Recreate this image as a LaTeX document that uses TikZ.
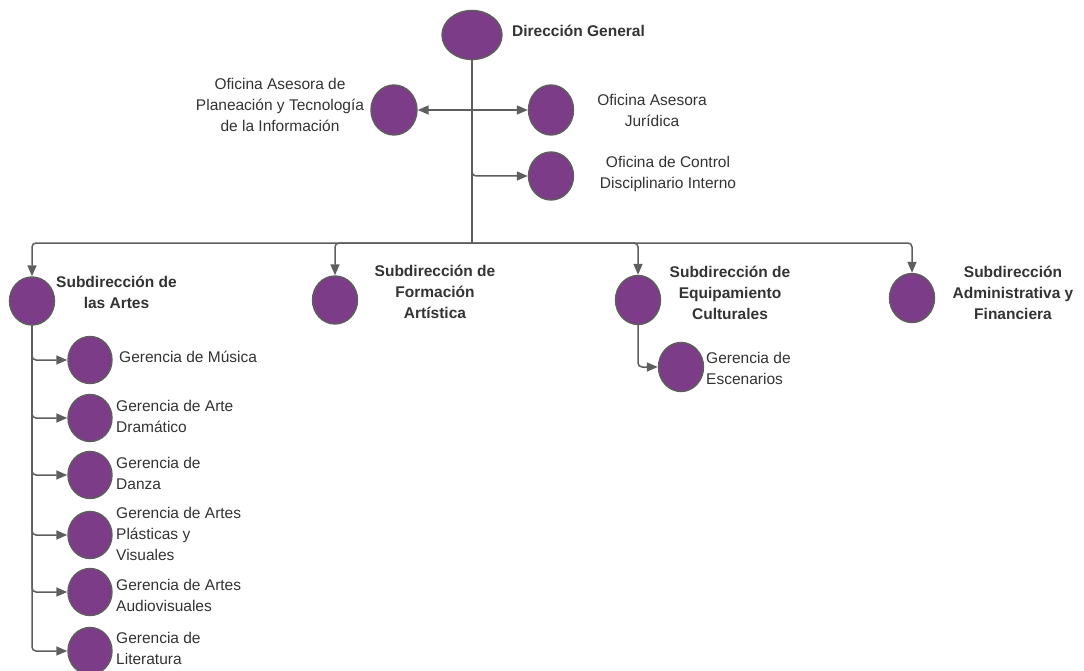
\documentclass[tikz,border=0pt]{standalone}
\usepackage{fontspec}
\setmainfont{Liberation Sans}
\usetikzlibrary{shapes.geometric,arrows.meta}
\definecolor{purp}{HTML}{7D3C87}
\definecolor{ln}{HTML}{5E5E5E}
\definecolor{txt}{HTML}{333333}
\tikzset{
  dot/.style={ellipse, draw=ln, line width=1.4pt, fill=purp, inner sep=0pt, minimum width=45pt, minimum height=48pt},
  lbl/.style={inner sep=0pt, text=txt, font=\fontsize{15.5}{21}\selectfont},
  blbl/.style={inner sep=0pt, text=txt, font=\fontsize{15.5}{21}\selectfont\bfseries},
  conn/.style={draw=ln, line width=1.5pt, rounded corners=4pt},
  arr/.style={conn, -{Triangle[length=11pt,width=9pt]}}
}
\begin{document}
\begin{tikzpicture}[x=1pt,y=-1pt]
\useasboundingbox (0,0) rectangle (1084,671);
\fill[white] (0,0) rectangle (1084,671);
% circles
\node[dot, minimum width=60pt, minimum height=49pt] (dg) at (472,35) {};
\node[dot, minimum width=46pt, minimum height=50pt] (ofp) at (394,110) {};
\node[dot, minimum height=50pt] (oaj) at (551,110) {};
\node[dot] (odi) at (551,176) {};
\node[dot] (sa) at (32,301) {};
\node[dot] (sf) at (335,300) {};
\node[dot, minimum height=49pt] (se) at (638,300) {};
\node[dot, minimum height=49pt] (sad) at (912,298) {};
\node[dot, minimum height=49pt] (ge) at (681,367) {};
\node[dot, minimum width=44pt, minimum height=47pt] (g1) at (90,360) {};
\node[dot, minimum width=44pt, minimum height=47pt] (g2) at (90,418) {};
\node[dot, minimum width=44pt, minimum height=47pt] (g3) at (90,475) {};
\node[dot, minimum width=44pt, minimum height=47pt] (g4) at (90,535) {};
\node[dot, minimum width=44pt, minimum height=47pt] (g5) at (90,592) {};
\node[dot, minimum width=44pt, minimum height=47pt] (g6) at (90,651) {};
% labels
\node[blbl, anchor=west] (tdg) at (512,31) {Dirección General};
\node[lbl, align=center] (tofp) at (280,105) {Oficina Asesora de\\Planeación y Tecnología\\de la Información};
\node[lbl, align=center] (toaj) at (652,110.5) {Oficina Asesora\\Jurídica};
\node[lbl, align=center] (todi) at (668,174) {Oficina de Control\\Disciplinario Interno};
\node[blbl, align=center] (tsa) at (116.5,292) {Subdirección de\\las Artes};
\node[blbl, align=center] (tsf) at (435,291.5) {Subdirección de\\Formación\\Artística};
\node[blbl, align=center] (tse) at (730,293) {Subdirección de\\Equipamiento\\Culturales};
\node[blbl, align=center] (tsad) at (1013,293) {Subdirección\\Administrativa y\\Financiera};
\node[lbl, align=left, anchor=west] (tge) at (706,368.5) {Gerencia de\\Escenarios};
\node[lbl, align=left, anchor=west] (tg1) at (119,357) {Gerencia de Música};
\node[lbl, align=left, anchor=west] (tg2) at (116,416) {Gerencia de Arte\\Dramático};
\node[lbl, align=left, anchor=west] (tg3) at (116,473.5) {Gerencia de\\Danza};
\node[lbl, align=left, anchor=west] (tg4) at (116,534) {Gerencia de Artes\\Plásticas y\\Visuales};
\node[lbl, align=left, anchor=west] (tg5) at (116,595) {Gerencia de Artes\\Audiovisuales};
\node[lbl, align=left, anchor=west] (tg6) at (116,648.5) {Gerencia de\\Literatura};
% connectors
\coordinate (j1) at (472,110);
\coordinate (bus) at (472,243);
\draw[conn] (dg.south) -- (j1);
\draw[arr] (j1) -- (ofp.east);
\draw[arr] (j1) -- (oaj.west);
\draw[arr] (j1) |- (odi.west);
\draw[conn] (j1) -- (bus);
\draw[arr] (bus) -| (sa.north);
\draw[arr] (bus) -| (sf.north);
\draw[arr] (bus) -| (se.north);
\draw[arr] (bus) -| (sad.north);
\draw[arr] (se.south) |- (ge.west);
\draw[arr] (sa.south) |- (g1.west);
\draw[arr] (sa.south) |- (g2.west);
\draw[arr] (sa.south) |- (g3.west);
\draw[arr] (sa.south) |- (g4.west);
\draw[arr] (sa.south) |- (g5.west);
\draw[arr] (sa.south) |- (g6.west);
\end{tikzpicture}
\end{document}
